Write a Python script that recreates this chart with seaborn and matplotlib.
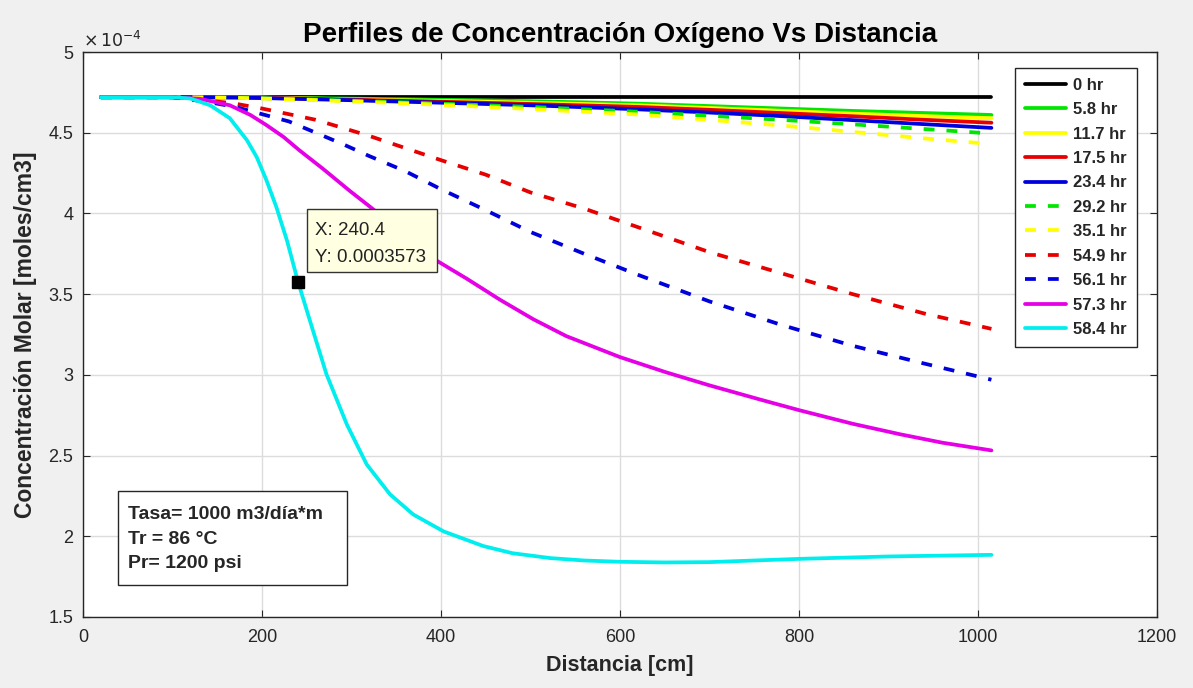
import numpy as np
import pandas as pd
import matplotlib
matplotlib.use("Agg")
import matplotlib.pyplot as plt
from matplotlib.patches import Rectangle
from matplotlib.ticker import FuncFormatter, MultipleLocator
import seaborn as sns

sns.set_theme(style="white")
plt.rcParams['font.family'] = ['Liberation Sans', 'DejaVu Sans']

# ---- data (concentration in units of 1e-4 moles/cm3) ----
distance = [20, 100, 140, 170, 200, 230, 260, 290, 320, 360, 400, 450, 500,
            560, 620, 700, 780, 860, 940, 1015]

labels = ["0 hr", "5.8 hr", "11.7 hr", "17.5 hr", "23.4 hr", "29.2 hr",
          "35.1 hr", "54.9 hr", "56.1 hr", "57.3 hr", "58.4 hr"]

c_0hr = [4.72] * 20
c_5_8 = [4.72, 4.72, 4.72, 4.72, 4.718, 4.716, 4.714, 4.712, 4.71, 4.707, 4.704,
         4.70, 4.695, 4.688, 4.68, 4.665, 4.65, 4.635, 4.622, 4.61]
c_11_7 = [4.72, 4.72, 4.72, 4.719, 4.717, 4.714, 4.711, 4.708, 4.705, 4.701, 4.697,
          4.692, 4.686, 4.678, 4.67, 4.653, 4.636, 4.618, 4.603, 4.59]
c_17_5 = [4.72, 4.72, 4.72, 4.719, 4.716, 4.713, 4.71, 4.706, 4.702, 4.697, 4.692,
          4.685, 4.678, 4.669, 4.66, 4.642, 4.622, 4.602, 4.58, 4.562]
c_23_4 = [4.72, 4.72, 4.719, 4.718, 4.715, 4.711, 4.707, 4.703, 4.698, 4.692, 4.686,
          4.678, 4.67, 4.658, 4.645, 4.625, 4.603, 4.578, 4.553, 4.53]
c_29_2 = [4.72, 4.72, 4.719, 4.717, 4.714, 4.71, 4.705, 4.70, 4.695, 4.688, 4.68,
          4.67, 4.66, 4.645, 4.63, 4.605, 4.58, 4.552, 4.523, 4.495]
c_35_1 = [4.72, 4.72, 4.718, 4.716, 4.712, 4.707, 4.702, 4.696, 4.69, 4.682, 4.673,
          4.66, 4.647, 4.63, 4.613, 4.58, 4.545, 4.505, 4.465, 4.43]
c_54_9 = [4.72, 4.72, 4.70, 4.68, 4.65, 4.615, 4.58, 4.53, 4.48, 4.405, 4.33,
          4.24, 4.13, 4.03, 3.915, 3.76, 3.63, 3.50, 3.38, 3.285]
c_56_1 = [4.72, 4.72, 4.69, 4.66, 4.615, 4.57, 4.50, 4.43, 4.355, 4.262, 4.15,
          4.02, 3.885, 3.75, 3.62, 3.455, 3.31, 3.18, 3.07, 2.97]

# the two fastest-changing profiles are read at more distances
distance_57_3 = [20, 100, 131, 164, 187, 205, 224, 242, 268, 298, 321, 360, 395,
                 429, 466, 503, 540, 600, 652, 700, 756, 801, 860, 913, 960, 1015]
c_57_3 = [4.72, 4.72, 4.71, 4.67, 4.61, 4.547, 4.474, 4.39, 4.277, 4.14, 4.04,
          3.865, 3.708, 3.595, 3.465, 3.345, 3.24, 3.11, 3.015, 2.935, 2.848, 2.78,
          2.697, 2.632, 2.58, 2.532]
distance_58_4 = [20, 100, 120, 142, 164, 183, 194, 205, 216, 228, 240.4, 257, 272,
                 295, 317, 343, 369, 403, 447, 480, 522, 560, 600, 650, 700, 800,
                 900, 1015]
c_58_4 = [4.72, 4.72, 4.712, 4.67, 4.59, 4.455, 4.35, 4.205, 4.04, 3.83, 3.573,
          3.273, 3.004, 2.69, 2.445, 2.26, 2.135, 2.03, 1.94, 1.895, 1.865, 1.85,
          1.842, 1.838, 1.84, 1.86, 1.875, 1.885]

xs = [distance] * 9 + [distance_57_3, distance_58_4]
series = [c_0hr, c_5_8, c_11_7, c_17_5, c_23_4, c_29_2, c_35_1,
          c_54_9, c_56_1, c_57_3, c_58_4]
colors = ["#000000", "#00e600", "#ffff00", "#e60000", "#0000dd", "#00e600",
          "#ffff00", "#e60000", "#0000dd", "#e600e6", "#00eeee"]
dashed = [False, False, False, False, False, True, True, True, True, False, False]

tip_x, tip_y = 240.4, 0.0003573
scale = 1e-4

# ---- figure ----
fig = plt.figure(figsize=(11.93, 6.88), dpi=100, facecolor="#f0f0f0")
ax = fig.add_axes([0.0696, 0.1032, 0.9002, 0.8212])
ax.set_facecolor("white")

for xv, vals, lab, col, dsh in zip(xs, series, labels, colors, dashed):
    df = pd.DataFrame({"x": xv, "y": np.array(vals) * scale})
    ls = (0, (2.9, 3.2)) if dsh else "-"
    sns.lineplot(data=df, x="x", y="y", ax=ax, color=col, linewidth=2.7,
                 linestyle=ls, label=lab, zorder=3, sort=False)

ax.set_xlim(0, 1200)
ax.set_ylim(1.5e-4, 5e-4)
ax.xaxis.set_major_locator(MultipleLocator(200))
ax.yaxis.set_major_locator(MultipleLocator(0.5e-4))
ax.yaxis.set_major_formatter(FuncFormatter(lambda v, p: f"{v / scale:g}"))
ax.grid(True, color="#dcdcdc", linewidth=1.0, zorder=0)
ax.set_axisbelow(True)
for s in ax.spines.values():
    s.set_color("#262626")
    s.set_linewidth(1.0)
ax.tick_params(axis="both", direction="in", length=5, width=0.8,
               colors="#262626", labelsize=13, top=True, right=True,
               bottom=True, left=True)
ax.tick_params(axis="x", pad=9)
ax.tick_params(axis="y", pad=7)

ax.text(0.0, 1.004, r"$\times\,10^{-4}$", transform=ax.transAxes,
        fontsize=12.5, color="#262626", ha="left", va="bottom")

ax.set_title("Perfiles de Concentración Oxígeno Vs Distancia", fontsize=20,
             fontweight="bold", color="#000000", pad=7)
ax.set_xlabel("Distancia [cm]", fontsize=15.5, fontweight="bold", color="#262626",
              labelpad=6)
ax.set_ylabel("Concentración Molar [moles/cm3]", fontsize=16.5, fontweight="bold",
              color="#262626", labelpad=8)

leg = ax.legend(loc="upper right", bbox_to_anchor=(0.981, 0.972),
                borderaxespad=0, frameon=True, fancybox=False,
                prop={"weight": "bold", "size": 12}, handlelength=2.5,
                labelspacing=0.565, handletextpad=0.4, borderpad=0.6)
leg.get_frame().set_edgecolor("#262626")
leg.get_frame().set_linewidth(1.0)
leg.get_frame().set_facecolor("white")
leg.get_frame().set_alpha(1.0)

# parameter text box
ax.add_patch(Rectangle((0.0326, 0.0566), 0.2132, 0.1664, transform=ax.transAxes,
                       facecolor="white", edgecolor="#262626", linewidth=1.0,
                       zorder=5))
for txt, yy in [("Tasa= 1000 m3/día*m", 0.182), ("Tr = 86 °C", 0.138),
                ("Pr= 1200 psi", 0.095)]:
    ax.text(0.0419, yy, txt, transform=ax.transAxes, fontsize=14,
            fontweight="bold", va="center", ha="left", zorder=6)

# data tip
ax.plot([tip_x], [tip_y], marker="s", markersize=8.5, color="black",
        linestyle="none", zorder=7)
ax.add_patch(Rectangle((250.3, 3.64e-4), 145.2, 0.385e-4, facecolor="#ffffe1",
                       edgecolor="#333333", linewidth=1.0, zorder=7))
ax.text(259, 3.895e-4, f"X: {tip_x}", fontsize=13.5, va="center", ha="left",
        color="#222222", zorder=8)
ax.text(259, 3.727e-4, f"Y: {tip_y}", fontsize=13.5, va="center", ha="left",
        color="#222222", zorder=8)

fig.savefig("out.png", dpi=100, facecolor=fig.get_facecolor())
